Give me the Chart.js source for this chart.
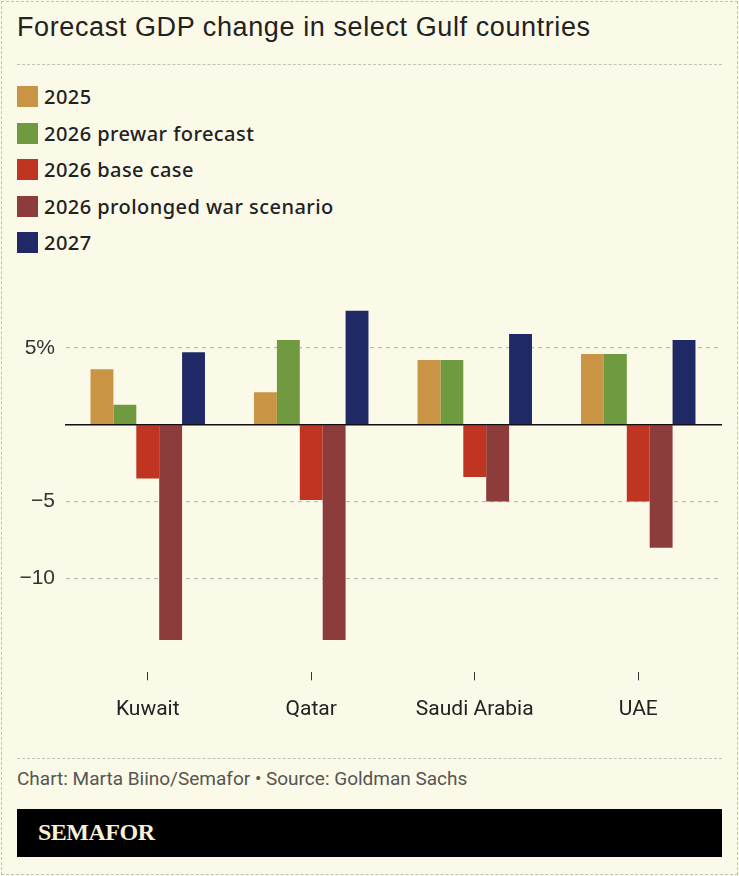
<!DOCTYPE html>
<html>
<head>
<meta charset="utf-8">
<script src="https://cdn.jsdelivr.net/npm/chart.js@4"></script>
<style>
  html, body { margin: 0; padding: 0; background: #FBF9E7; }
  body { width: 739px; height: 876px; position: relative; overflow: hidden; font-family: "Liberation Sans", Arial, sans-serif; }
  #frame { position: absolute; left: 1px; top: 1px; width: 735px; height: 872px; border: 1px dashed #c4c2b4; }
  #title { position: absolute; left: 17px; top: 12px; font-size: 27px; letter-spacing: 0.6px; color: #222; white-space: nowrap; }
  .rule { position: absolute; left: 17px; width: 705px; border-top: 1px dashed #c4c2b4; }
  #legend { position: absolute; left: 17px; top: 86px; }
  .item { height: 36.5px; display: flex; align-items: flex-start; font-family: "Noto Sans", sans-serif; font-weight: 500; font-size: 20px; color: #222; letter-spacing: 0.45px; }
  .box { width: 21px; height: 21px; margin-right: 6px; }
  .item span { line-height: 22px; }
  #chartBox { position: absolute; left: 0; top: 278px; width: 739px; height: 466px; }
  #source { position: absolute; left: 17px; top: 767px; font-family: "Liberation Sans Narrow", "Roboto", sans-serif; font-size: 19px; color: #555; }
  #brand { position: absolute; left: 17px; top: 809px; width: 705px; height: 48px; background: #000; }
  #brand span { position: absolute; left: 21px; top: 10px; font-family: "Liberation Serif", serif; font-weight: bold; font-size: 24px; color: #F6F1D8; letter-spacing: -0.5px; }
</style>
</head>
<body>
<div id="frame"></div>
<div id="title">Forecast GDP change in select Gulf countries</div>
<div class="rule" style="top:64px"></div>
<div id="legend"></div>
<div id="chartBox"><canvas id="gdp-chart"></canvas></div>
<div class="rule" style="top:758px"></div>
<div id="source">Chart: Marta Biino/Semafor • Source: Goldman Sachs</div>
<div id="brand"><span>SEMAFOR</span></div>

<script>
// values (% GDP change)
const countries = ["Kuwait", "Qatar", "Saudi Arabia", "UAE"];
const seriesNames = ["2025", "2026 prewar forecast", "2026 base case", "2026 prolonged war scenario", "2027"];
const seriesColors = ["#C99444", "#6F9A3F", "#C03522", "#8D3C3C", "#1F2966"];
const gdp2025 = [3.6, 2.1, 4.2, 4.6];
const gdp2026Prewar = [1.3, 5.5, 4.2, 4.6];
const gdp2026Base = [-3.5, -4.9, -3.4, -5.0];
const gdp2026Prolonged = [-14.0, -14.0, -5.0, -8.0];
const gdp2027 = [4.7, 7.4, 5.9, 5.5];
const yTicks = [-10, -5, 0, 5];

const allSeries = [gdp2025, gdp2026Prewar, gdp2026Base, gdp2026Prolonged, gdp2027];

let legendElement = document.getElementById("legend");
seriesNames.forEach((name, i) => {
    let row = document.createElement("div");
    row.className = "item";
    row.innerHTML = `<div class="box" style="background:${seriesColors[i]}"></div><span>${name}</span>`;
    legendElement.appendChild(row);
});

// solid zero line across the plot
const zeroLine = {
    id: 'zeroLine',
    afterDatasetsDraw(chart) {
        let y = chart.scales.y.getPixelForValue(0);
        let ctx = chart.ctx;
        ctx.save();
        ctx.strokeStyle = '#111';
        ctx.lineWidth = 1.5;
        ctx.beginPath();
        ctx.moveTo(chart.chartArea.left - 1, y);
        ctx.lineTo(chart.chartArea.right + 2, y);
        ctx.stroke();
        ctx.restore();
    }
};

let gdpCanvas = document.getElementById("gdp-chart").getContext("2d");

new Chart(gdpCanvas, {
    type: 'bar',
    data: {
        labels: countries,
        datasets: allSeries.map((values, i) => ({
            label: seriesNames[i],
            data: values,
            backgroundColor: seriesColors[i],
            categoryPercentage: 0.7,
            barPercentage: 1.0
        }))
    },
    options: {
        responsive: true,
        maintainAspectRatio: false,
        animation: false,
        layout: {
            padding: {top: 14.5, bottom: 4.5, left: 0, right: 19}
        },
        plugins: {
            legend: { display: false },
            tooltip: { enabled: false }
        },
        scales: {
            x: {
                grid: {
                    display: true,
                    drawOnChartArea: false,
                    drawTicks: true,
                    tickLength: 8,
                    offset: false,
                    color: '#333'
                },
                border: { display: false },
                ticks: {
                    color: '#222',
                    padding: 17,
                    font: { family: "'Liberation Sans Narrow', Roboto, sans-serif", size: 21 }
                }
            },
            y: {
                min: -16.1,
                max: 8,
                afterBuildTicks: scale => {
                    scale.ticks = yTicks.map(v => ({value: v}));
                },
                afterFit: scale => {
                    scale.width = 66;
                },
                grid: {
                    drawTicks: false,
                    color: ctx => ctx.tick && ctx.tick.value === 0 ? 'rgba(0,0,0,0)' : '#bdbbae',
                    lineWidth: 1.2
                },
                border: { display: false, dash: [4, 4] },
                ticks: {
                    color: '#333',
                    padding: 11,
                    font: { family: "'Liberation Sans', Arial, sans-serif", size: 21 },
                    callback: value => {
                        if (value === 0) return '';
                        if (value === 5) return '5%';
                        return value < 0 ? '\u2212' + Math.abs(value) : String(value);
                    }
                }
            }
        }
    },
    plugins: [zeroLine]
});
</script>
</body>
</html>
